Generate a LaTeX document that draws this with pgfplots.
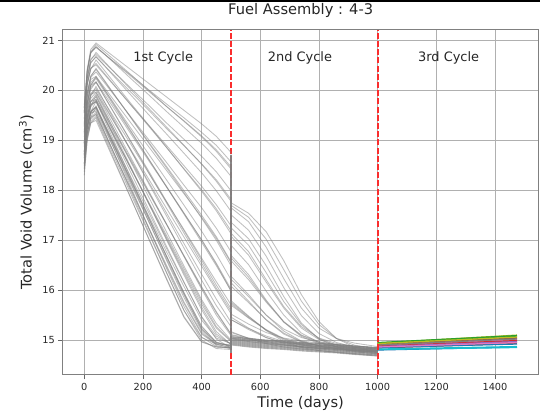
\documentclass[border=0pt]{standalone}
\usepackage{pgfplots}
\pgfplotsset{compat=1.18}
\usepackage{fontspec}
\setmainfont{DejaVu Sans}
\definecolor{curvegray}{RGB}{128,128,128}
\definecolor{gridgray}{RGB}{176,176,176}
\definecolor{vred}{RGB}{250,45,45}
\definecolor{C0}{HTML}{1F77B4}
\definecolor{C1}{HTML}{FF7F0E}
\definecolor{C2}{HTML}{2CA02C}
\definecolor{C3}{HTML}{D62728}
\definecolor{C4}{HTML}{9467BD}
\definecolor{C5}{HTML}{8C564B}
\definecolor{C6}{HTML}{E377C2}
\definecolor{C7}{HTML}{7F7F7F}
\definecolor{C8}{HTML}{BCBD22}
\definecolor{C9}{HTML}{17BECF}
\pgfplotsset{
  gl/.style={draw=curvegray, draw opacity=0.5, line width=0.85bp, mark=none},
  cl/.style={draw=#1, line width=1.2bp, mark=none},
  rl/.style={draw=vred, line width=1.8bp, dash pattern=on 6bp off 2.2bp, mark=none},
}
\begin{document}
\begin{tikzpicture}
\begin{axis}[
  set layers,
  at={(62.7bp,37bp)}, anchor=south west,
  width=476bp, height=345bp, scale only axis,
  xmin=-73.6, xmax=1549, ymin=14.30, ymax=21.21,
  xtick={0,200,...,1400}, ytick={15,16,...,21},
  /pgf/number format/assume math mode=true,
  /pgf/number format/1000 sep={},
  grid=major, grid style={draw=gridgray, line width=0.8bp},
  axis line style={draw=black!50, line width=1bp},
  tick align=outside, tick pos=left, major tick length=4.4bp,
  tick style={draw=black!60, line width=0.8bp},
  ticklabel style={font=\fontsize{9.8}{11}\selectfont, text=black!85},
  title={Fuel Assembly : 4-3},
  title style={font=\fontsize{14.7}{16}\selectfont, text=black!85, at={(axis description cs:0.5,1.0265)}, anchor=base, yshift=0pt},
  xlabel={Time (days)},
  xlabel style={font=\fontsize{14.7}{16}\selectfont, text=black!85, at={(axis description cs:0.5,-0.0928)}, anchor=base, inner sep=0pt},
  ylabel={Total Void Volume (cm\textsuperscript{3})},
  ylabel style={font=\fontsize{14.7}{16}\selectfont, text=black!85, at={(axis description cs:-0.0651,0.5)}, anchor=base},
]
% end of cycle 1
\addplot[rl] coordinates {(500,14.30) (500,21.21)};
% gray curves, cycles 1 and 2
\addplot[gl] coordinates {(0,18.30)(10,18.99)(22,19.34)(40,19.45)(100,18.64)(160,17.83)(220,17.02)(280,16.22)(340,15.45)(400,14.96)(450,14.86)(500,14.85)(500,14.98)(560,14.94)(620,14.91)(680,14.89)(740,14.86)(800,14.84)(860,14.82)(920,14.79)(1000,14.76)};
\addplot[gl] coordinates {(0,18.48)(10,19.13)(22,19.45)(40,19.56)(100,18.76)(160,17.96)(220,17.16)(280,16.36)(340,15.59)(400,15.00)(450,14.83)(500,14.81)(500,15.04)(560,15.00)(620,14.97)(680,14.95)(740,14.92)(800,14.90)(860,14.88)(920,14.85)(1000,14.82)};
\addplot[gl] coordinates {(0,18.42)(10,19.06)(22,19.37)(40,19.48)(100,18.70)(160,17.91)(220,17.13)(280,16.35)(340,15.59)(400,15.05)(450,14.92)(500,14.91)(500,14.92)(560,14.88)(620,14.85)(680,14.83)(740,14.80)(800,14.78)(860,14.76)(920,14.73)(1000,14.70)};
\addplot[gl] coordinates {(0,18.65)(10,19.26)(22,19.57)(40,19.67)(100,18.90)(160,18.14)(220,17.37)(280,16.60)(340,15.85)(400,15.18)(450,14.89)(500,14.83)(500,15.07)(560,15.03)(620,15.00)(680,14.98)(740,14.95)(800,14.93)(860,14.91)(920,14.88)(1000,14.85)};
\addplot[gl] coordinates {(0,18.53)(10,19.12)(22,19.42)(40,19.52)(100,18.76)(160,18.01)(220,17.25)(280,16.50)(340,15.76)(400,15.14)(450,14.93)(500,14.89)(500,14.95)(560,14.91)(620,14.88)(680,14.86)(740,14.83)(800,14.81)(860,14.79)(920,14.76)(1000,14.73)};
\addplot[gl] coordinates {(0,18.76)(10,19.30)(22,19.57)(40,19.66)(100,18.92)(160,18.17)(220,17.42)(280,16.68)(340,15.94)(400,15.28)(450,14.95)(500,14.87)(500,15.01)(560,14.97)(620,14.94)(680,14.92)(740,14.89)(800,14.87)(860,14.85)(920,14.82)(1000,14.79)};
\addplot[gl] coordinates {(0,18.50)(10,19.28)(22,19.67)(40,19.80)(100,19.07)(160,18.34)(220,17.61)(280,16.88)(340,16.16)(400,15.46)(450,15.02)(500,14.84)(500,14.90)(560,14.86)(620,14.83)(680,14.81)(740,14.78)(800,14.76)(860,14.74)(920,14.71)(1000,14.68)};
\addplot[gl] coordinates {(0,18.73)(10,19.26)(22,19.53)(40,19.62)(100,18.91)(160,18.19)(220,17.48)(280,16.77)(340,16.07)(400,15.40)(450,15.04)(500,14.93)(500,15.06)(560,15.02)(620,14.99)(680,14.97)(740,14.94)(800,14.92)(860,14.90)(920,14.87)(1000,14.84)};
\addplot[gl] coordinates {(0,18.69)(10,19.37)(22,19.71)(40,19.82)(100,19.12)(160,18.43)(220,17.73)(280,17.03)(340,16.34)(400,15.66)(450,15.17)(500,14.91)(500,14.97)(560,14.93)(620,14.90)(680,14.88)(740,14.85)(800,14.83)(860,14.81)(920,14.78)(1000,14.75)};
\addplot[gl] coordinates {(0,18.96)(10,19.45)(22,19.70)(40,19.78)(100,19.10)(160,18.42)(220,17.74)(280,17.06)(340,16.38)(400,15.72)(450,15.24)(500,14.97)(500,15.03)(560,14.99)(620,14.96)(680,14.94)(740,14.91)(800,14.89)(860,14.87)(920,14.84)(1000,14.81)};
\addplot[gl] coordinates {(0,18.71)(10,19.46)(22,19.84)(40,19.96)(100,19.30)(160,18.64)(220,17.98)(280,17.33)(340,16.67)(400,16.02)(450,15.50)(500,15.09)(500,15.03)(560,14.97)(620,14.93)(680,14.90)(740,14.86)(800,14.84)(860,14.82)(920,14.79)(1000,14.76)};
\addplot[gl] coordinates {(0,18.94)(10,19.50)(22,19.78)(40,19.87)(100,19.23)(160,18.60)(220,17.96)(280,17.32)(340,16.68)(400,16.05)(450,15.55)(500,15.12)(500,15.11)(560,15.04)(620,14.99)(680,14.96)(740,14.93)(800,14.90)(860,14.88)(920,14.85)(1000,14.82)};
\addplot[gl] coordinates {(0,18.87)(10,19.55)(22,19.90)(40,20.01)(100,19.39)(160,18.78)(220,18.16)(280,17.55)(340,16.93)(400,16.32)(450,15.82)(500,15.36)(500,15.17)(560,15.03)(620,14.93)(680,14.86)(740,14.82)(800,14.79)(860,14.76)(920,14.73)(1000,14.70)};
\addplot[gl] coordinates {(0,19.12)(10,19.74)(22,20.06)(40,20.16)(100,19.57)(160,18.97)(220,18.38)(280,17.78)(340,17.19)(400,16.60)(450,16.10)(500,15.63)(500,15.52)(560,15.32)(620,15.15)(680,15.04)(740,14.98)(800,14.94)(860,14.91)(920,14.88)(1000,14.85)};
\addplot[gl] coordinates {(0,19.07)(10,19.65)(22,19.94)(40,20.04)(100,19.47)(160,18.91)(220,18.34)(280,17.77)(340,17.21)(400,16.64)(450,16.17)(500,15.71)(500,15.46)(560,15.24)(620,15.05)(680,14.93)(740,14.87)(800,14.82)(860,14.79)(920,14.76)(1000,14.73)};
\addplot[gl] coordinates {(0,18.95)(10,19.72)(22,20.11)(40,20.24)(100,19.70)(160,19.16)(220,18.62)(280,18.08)(340,17.54)(400,17.00)(450,16.52)(500,15.98)(500,15.73)(560,15.45)(620,15.21)(680,15.03)(740,14.94)(800,14.89)(860,14.86)(920,14.83)(1000,14.79)};
\addplot[gl] coordinates {(0,19.27)(10,19.86)(22,20.16)(40,20.26)(100,19.75)(160,19.23)(220,18.72)(280,18.21)(340,17.70)(400,17.18)(450,16.72)(500,16.21)(500,15.79)(560,15.48)(620,15.19)(680,14.97)(740,14.85)(800,14.79)(860,14.75)(920,14.72)(1000,14.68)};
\addplot[gl] coordinates {(0,19.16)(10,19.92)(22,20.29)(40,20.42)(100,19.93)(160,19.45)(220,18.96)(280,18.48)(340,17.99)(400,17.50)(450,17.07)(500,16.57)(500,16.22)(560,15.87)(620,15.50)(680,15.22)(740,15.05)(800,14.96)(860,14.91)(920,14.88)(1000,14.84)};
\addplot[gl] coordinates {(0,19.31)(10,19.95)(22,20.26)(40,20.37)(100,19.92)(160,19.46)(220,19.01)(280,18.56)(340,18.10)(400,17.65)(450,17.24)(500,16.77)(500,16.28)(560,15.91)(620,15.50)(680,15.18)(740,14.98)(800,14.88)(860,14.83)(920,14.79)(1000,14.75)};
\addplot[gl] coordinates {(0,19.54)(10,20.14)(22,20.44)(40,20.54)(100,20.12)(160,19.70)(220,19.28)(280,18.86)(340,18.43)(400,18.01)(450,17.63)(500,17.19)(500,16.65)(560,16.26)(620,15.78)(680,15.37)(740,15.10)(800,14.97)(860,14.90)(920,14.86)(1000,14.82)};
\addplot[gl] coordinates {(0,19.36)(10,20.15)(22,20.55)(40,20.68)(100,20.29)(160,19.90)(220,19.51)(280,19.13)(340,18.74)(400,18.35)(450,17.99)(500,17.58)(500,16.90)(560,16.51)(620,15.98)(680,15.50)(740,15.14)(800,14.95)(860,14.86)(920,14.81)(1000,14.77)};
\addplot[gl] coordinates {(0,19.59)(10,20.24)(22,20.56)(40,20.67)(100,20.31)(160,19.96)(220,19.60)(280,19.24)(340,18.89)(400,18.53)(450,18.21)(500,17.82)(500,17.14)(560,16.77)(620,16.21)(680,15.67)(740,15.27)(800,15.04)(860,14.93)(920,14.88)(1000,14.83)};
\addplot[gl] coordinates {(0,19.57)(10,20.36)(22,20.75)(40,20.88)(100,20.56)(160,20.23)(220,19.91)(280,19.58)(340,19.26)(400,18.94)(450,18.64)(500,18.28)(500,17.36)(560,17.03)(620,16.49)(680,15.87)(740,15.34)(800,15.02)(860,14.86)(920,14.77)(1000,14.72)};
\addplot[gl] coordinates {(0,19.66)(10,20.39)(22,20.75)(40,20.87)(100,20.57)(160,20.28)(220,19.98)(280,19.68)(340,19.39)(400,19.09)(450,18.81)(500,18.47)(500,17.65)(560,17.37)(620,16.86)(680,16.23)(740,15.64)(800,15.24)(860,15.03)(920,14.94)(1000,14.87)};
\addplot[gl] coordinates {(0,19.65)(10,20.43)(22,20.82)(40,20.95)(100,20.68)(160,20.41)(220,20.14)(280,19.87)(340,19.60)(400,19.33)(450,19.08)(500,18.76)(500,17.75)(560,17.54)(620,17.17)(680,16.59)(740,15.91)(800,15.37)(860,15.03)(920,14.86)(1000,14.76)};
% second set of gray curves
\addplot[gl] coordinates {(0,18.44)(10,19.14)(22,19.47)(40,19.66)(100,18.85)(160,18.05)(220,17.24)(280,16.44)(340,15.67)(400,15.06)(450,14.87)(500,14.83)(500,14.96)(560,14.92)(620,14.89)(680,14.87)(740,14.84)(800,14.82)(860,14.80)(920,14.77)(1000,14.74)};
\addplot[gl] coordinates {(0,18.37)(10,19.04)(22,19.35)(40,19.40)(100,18.61)(160,17.82)(220,17.03)(280,16.24)(340,15.47)(400,14.97)(450,14.86)(500,14.85)(500,15.02)(560,14.98)(620,14.95)(680,14.93)(740,14.90)(800,14.88)(860,14.86)(920,14.83)(1000,14.80)};
\addplot[gl] coordinates {(0,18.64)(10,19.26)(22,19.57)(40,19.78)(100,19.00)(160,18.23)(220,17.45)(280,16.68)(340,15.92)(400,15.22)(450,14.95)(500,14.88)(500,14.93)(560,14.89)(620,14.86)(680,14.84)(740,14.81)(800,14.79)(860,14.77)(920,14.74)(1000,14.71)};
\addplot[gl] coordinates {(0,18.54)(10,19.15)(22,19.46)(40,19.52)(100,18.75)(160,18.00)(220,17.23)(280,16.47)(340,15.73)(400,15.12)(450,14.91)(500,14.86)(500,15.05)(560,15.01)(620,14.98)(680,14.96)(740,14.93)(800,14.91)(860,14.89)(920,14.86)(1000,14.83)};
\addplot[gl] coordinates {(0,18.77)(10,19.26)(22,19.55)(40,19.69)(100,18.94)(160,18.19)(220,17.44)(280,16.69)(340,15.95)(400,15.26)(450,14.96)(500,14.88)(500,14.99)(560,14.95)(620,14.92)(680,14.90)(740,14.87)(800,14.85)(860,14.83)(920,14.80)(1000,14.77)};
\addplot[gl] coordinates {(0,18.53)(10,19.22)(22,19.55)(40,19.58)(100,18.85)(160,18.11)(220,17.37)(280,16.63)(340,15.90)(400,15.22)(450,14.92)(500,14.84)(500,14.91)(560,14.87)(620,14.84)(680,14.82)(740,14.79)(800,14.77)(860,14.75)(920,14.72)(1000,14.69)};
\addplot[gl] coordinates {(0,18.70)(10,19.36)(22,19.69)(40,19.89)(100,19.17)(160,18.45)(220,17.73)(280,17.01)(340,16.30)(400,15.61)(450,15.12)(500,14.92)(500,15.07)(560,15.03)(620,15.00)(680,14.98)(740,14.95)(800,14.93)(860,14.91)(920,14.88)(1000,14.85)};
\addplot[gl] coordinates {(0,18.73)(10,19.30)(22,19.59)(40,19.66)(100,18.96)(160,18.25)(220,17.55)(280,16.84)(340,16.15)(400,15.47)(450,15.08)(500,14.92)(500,14.94)(560,14.90)(620,14.87)(680,14.85)(740,14.82)(800,14.80)(860,14.78)(920,14.75)(1000,14.72)};
\addplot[gl] coordinates {(0,18.77)(10,19.47)(22,19.77)(40,19.92)(100,19.23)(160,18.55)(220,17.86)(280,17.17)(340,16.48)(400,15.81)(450,15.33)(500,15.00)(500,15.00)(560,14.96)(620,14.93)(680,14.91)(740,14.88)(800,14.86)(860,14.84)(920,14.81)(1000,14.78)};
\addplot[gl] coordinates {(0,18.94)(10,19.41)(22,19.72)(40,19.77)(100,19.10)(160,18.43)(220,17.76)(280,17.10)(340,16.43)(400,15.77)(450,15.27)(500,14.98)(500,15.04)(560,15.00)(620,14.97)(680,14.95)(740,14.92)(800,14.90)(860,14.88)(920,14.85)(1000,14.82)};
\addplot[gl] coordinates {(0,18.78)(10,19.56)(22,19.89)(40,20.08)(100,19.43)(160,18.78)(220,18.13)(280,17.49)(340,16.84)(400,16.20)(450,15.69)(500,15.27)(500,15.15)(560,15.04)(620,14.97)(680,14.91)(740,14.86)(800,14.83)(860,14.81)(920,14.78)(1000,14.75)};
\addplot[gl] coordinates {(0,18.97)(10,19.47)(22,19.78)(40,19.82)(100,19.19)(160,18.57)(220,17.94)(280,17.32)(340,16.69)(400,16.07)(450,15.57)(500,15.12)(500,15.10)(560,15.02)(620,14.95)(680,14.90)(740,14.87)(800,14.84)(860,14.82)(920,14.79)(1000,14.76)};
\addplot[gl] coordinates {(0,18.90)(10,19.69)(22,20.02)(40,20.17)(100,19.56)(160,18.96)(220,18.35)(280,17.75)(340,17.14)(400,16.54)(450,16.04)(500,15.58)(500,15.41)(560,15.23)(620,15.08)(680,14.97)(740,14.91)(800,14.87)(860,14.84)(920,14.81)(1000,14.78)};
\addplot[gl] coordinates {(0,19.18)(10,19.63)(22,19.93)(40,19.96)(100,19.38)(160,18.80)(220,18.22)(280,17.64)(340,17.06)(400,16.48)(450,16.00)(500,15.53)(500,15.41)(560,15.21)(620,15.05)(680,14.95)(740,14.90)(800,14.86)(860,14.84)(920,14.81)(1000,14.78)};
\addplot[gl] coordinates {(0,18.93)(10,19.76)(22,20.10)(40,20.28)(100,19.73)(160,19.18)(220,18.62)(280,18.07)(340,17.52)(400,16.96)(450,16.49)(500,15.99)(500,15.70)(560,15.44)(620,15.20)(680,15.02)(740,14.92)(800,14.86)(860,14.83)(920,14.80)(1000,14.76)};
\addplot[gl] coordinates {(0,19.21)(10,19.75)(22,20.10)(40,20.17)(100,19.65)(160,19.12)(220,18.59)(280,18.07)(340,17.54)(400,17.01)(450,16.54)(500,16.02)(500,15.76)(560,15.47)(620,15.20)(680,15.00)(740,14.90)(800,14.84)(860,14.81)(920,14.78)(1000,14.74)};
\addplot[gl] coordinates {(0,19.15)(10,19.94)(22,20.28)(40,20.44)(100,19.94)(160,19.44)(220,18.94)(280,18.45)(340,17.95)(400,17.44)(450,17.00)(500,16.49)(500,16.08)(560,15.75)(620,15.41)(680,15.14)(740,14.97)(800,14.88)(860,14.83)(920,14.80)(1000,14.76)};
\addplot[gl] coordinates {(0,19.29)(10,19.88)(22,20.22)(40,20.28)(100,19.81)(160,19.34)(220,18.87)(280,18.40)(340,17.93)(400,17.46)(450,17.04)(500,16.55)(500,16.15)(560,15.78)(620,15.40)(680,15.12)(740,14.96)(800,14.89)(860,14.85)(920,14.82)(1000,14.79)};
\addplot[gl] coordinates {(0,19.33)(10,20.12)(22,20.42)(40,20.61)(100,20.17)(160,19.73)(220,19.30)(280,18.86)(340,18.42)(400,17.98)(450,17.59)(500,17.13)(500,16.59)(560,16.21)(620,15.76)(680,15.36)(740,15.09)(800,14.95)(860,14.87)(920,14.83)(1000,14.79)};
\addplot[gl] coordinates {(0,19.55)(10,20.10)(22,20.45)(40,20.51)(100,20.11)(160,19.70)(220,19.30)(280,18.90)(340,18.49)(400,18.08)(450,17.71)(500,17.29)(500,16.70)(560,16.31)(620,15.80)(680,15.36)(740,15.07)(800,14.93)(860,14.87)(920,14.83)(1000,14.79)};
\addplot[gl] coordinates {(0,19.43)(10,20.24)(22,20.60)(40,20.76)(100,20.38)(160,20.01)(220,19.64)(280,19.27)(340,18.90)(400,18.52)(450,18.18)(500,17.78)(500,17.08)(560,16.70)(620,16.16)(680,15.64)(740,15.24)(800,15.01)(860,14.90)(920,14.85)(1000,14.80)};
\addplot[gl] coordinates {(0,19.64)(10,20.27)(22,20.63)(40,20.72)(100,20.38)(160,20.04)(220,19.70)(280,19.35)(340,19.02)(400,18.68)(450,18.37)(500,17.99)(500,17.25)(560,16.90)(620,16.35)(680,15.77)(740,15.31)(800,15.03)(860,14.90)(920,14.83)(1000,14.78)};
\addplot[gl] coordinates {(0,19.56)(10,20.40)(22,20.77)(40,20.92)(100,20.62)(160,20.31)(220,20.00)(280,19.68)(340,19.38)(400,19.07)(450,18.78)(500,18.43)(500,17.51)(560,17.20)(620,16.68)(680,16.05)(740,15.49)(800,15.13)(860,14.95)(920,14.86)(1000,14.80)};
\addplot[gl] coordinates {(0,19.71)(10,20.39)(22,20.77)(40,20.86)(100,20.58)(160,20.30)(220,20.01)(280,19.73)(340,19.45)(400,19.16)(450,18.90)(500,18.57)(500,17.70)(560,17.46)(620,17.02)(680,16.41)(740,15.78)(800,15.31)(860,15.03)(920,14.90)(1000,14.82)};
% dense jump at the end of cycle 1
\addplot[draw=curvegray, draw opacity=0.92, line width=1.9bp] coordinates {(500,14.74) (500,18.70)};
% cycle 3 lines
\addplot[cl=C0] coordinates {(1000,14.80) (1475,14.86)};
\addplot[cl=C1] coordinates {(1000,14.88) (1475,15.00)};
\addplot[cl=C2] coordinates {(1000,14.93) (1475,15.08)};
\addplot[cl=C3] coordinates {(1000,14.86) (1475,14.96)};
\addplot[cl=C4] coordinates {(1000,14.90) (1475,15.03)};
\addplot[cl=C5] coordinates {(1000,14.84) (1475,14.93)};
\addplot[cl=C6] coordinates {(1000,14.89) (1475,15.01)};
\addplot[cl=C7] coordinates {(1000,14.87) (1475,14.98)};
\addplot[cl=C8] coordinates {(1000,14.94) (1475,15.10)};
\addplot[cl=C9] coordinates {(1000,14.82) (1475,14.87)};
\addplot[cl=C0] coordinates {(1000,14.85) (1475,14.92)};
\addplot[cl=C1] coordinates {(1000,14.91) (1475,15.05)};
\addplot[cl=C2] coordinates {(1000,14.95) (1475,15.09)};
\addplot[cl=C3] coordinates {(1000,14.88) (1475,14.99)};
\addplot[cl=C4] coordinates {(1000,14.87) (1475,14.97)};
\addplot[cl=C5] coordinates {(1000,14.92) (1475,15.04)};
\addplot[cl=C6] coordinates {(1000,14.86) (1475,14.95)};
\addplot[cl=C7] coordinates {(1000,14.90) (1475,15.02)};
\addplot[cl=C8] coordinates {(1000,14.93) (1475,15.06)};
\addplot[cl=C9] coordinates {(1000,14.81) (1475,14.85)};
% end of cycle 2
\addplot[rl] coordinates {(1000,14.30) (1000,21.21)};
% annotations
\node[font=\fontsize{13}{15}\selectfont, text=black!85, anchor=base] at (axis cs:269,20.575) {1st Cycle};
\node[font=\fontsize{13}{15}\selectfont, text=black!85, anchor=base] at (axis cs:735,20.575) {2nd Cycle};
\node[font=\fontsize{13}{15}\selectfont, text=black!85, anchor=base] at (axis cs:1242,20.575) {3rd Cycle};
\end{axis}
\path (0,0) rectangle (540bp,412bp);
\fill[black] (0,410bp) rectangle (540bp,412bp);
\end{tikzpicture}
\end{document}
